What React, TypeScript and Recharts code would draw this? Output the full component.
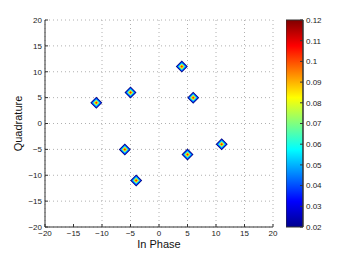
import React from 'react';
import {
  ScatterChart, Scatter, XAxis, YAxis, CartesianGrid, ReferenceArea, ComposedChart, Line,
} from 'recharts';

const inPhase = [-11, -5, 4, 6, -6, -4, 5, 11];
const quadrature = [4, 6, 11, 5, -5, -11, -6, -4];
const axisTicks = [-20, -15, -10, -5, 0, 5, 10, 15, 20];
const colorTicks = [0.02, 0.03, 0.04, 0.05, 0.06, 0.07, 0.08, 0.09, 0.1, 0.11, 0.12];
const colorRange = [0.02, 0.12];

const points = inPhase.map((x, i) => ({ x, y: quadrature[i] }));
const barData = [{ x: 0, y: colorRange[0] }, { x: 1, y: colorRange[1] }];

const FONT = 'Liberation Sans, Arial, sans-serif';
const fmt = (v: number) => (v < 0 ? '\u2212' + Math.abs(v) : String(v));

const layers = [
  { r: 6.0, c: '#00007a' },
  { r: 5.0, c: '#0040ff' },
  { r: 3.9, c: '#00d8ff' },
  { r: 2.8, c: '#c8ff40' },
  { r: 1.8, c: '#ffb000' },
  { r: 1.0, c: '#ff2000' },
];

const Diamond = (props: any) => {
  const { cx, cy } = props;
  if (cx == null || cy == null) return null;
  return (
    <g>
      {layers.map((l, i) => (
        <polygon
          key={i}
          points={`${cx},${cy - l.r} ${cx + l.r},${cy} ${cx},${cy + l.r} ${cx - l.r},${cy}`}
          fill={l.c}
        />
      ))}
    </g>
  );
};

const tickStyle = { fontSize: 8, fill: '#222', fontFamily: FONT };

export default function App() {
  return (
    <div style={{ position: 'fixed', left: 0, top: 0, width: 350, height: 256, background: '#fff' }}>
      <div style={{ position: 'absolute', left: 0, top: 0 }}>
        <ScatterChart width={350} height={256} margin={{ top: 20, right: 77, bottom: 0, left: 0 }}>
          <CartesianGrid strokeDasharray="1 3" stroke="#b0b0b0" horizontalValues={axisTicks} verticalValues={axisTicks} />
          <XAxis
            type="number"
            dataKey="x"
            domain={[-20, 20]}
            ticks={axisTicks}
            allowDataOverflow
            tickFormatter={fmt}
            tick={tickStyle}
            tickSize={-3}
            tickMargin={6}
            height={29}
            stroke="#333"
            label={{ value: 'In Phase', position: 'insideBottom', offset: 8, fontSize: 11, fill: '#111', fontFamily: FONT }}
          />
          <XAxis xAxisId="top" orientation="top" type="number" domain={[-20, 20]} ticks={axisTicks} tickFormatter={() => ''} tickSize={-3} height={0} stroke="#333" />
          <YAxis
            type="number"
            dataKey="y"
            domain={[-20, 20]}
            ticks={axisTicks}
            allowDataOverflow
            tickFormatter={fmt}
            tick={tickStyle}
            tickSize={-3}
            tickMargin={6}
            width={45}
            stroke="#333"
            label={{ value: 'Quadrature', angle: -90, position: 'insideLeft', offset: 18, fontSize: 11, fill: '#111', fontFamily: FONT, style: { textAnchor: 'middle' } }}
          />
          <YAxis yAxisId="right" orientation="right" type="number" domain={[-20, 20]} ticks={axisTicks} tickFormatter={() => ''} tickSize={-3} width={0} stroke="#333" />
          <Scatter data={points} shape={<Diamond />} isAnimationActive={false} />
        </ScatterChart>
      </div>
      <div style={{ position: 'absolute', left: 286, top: 0 }}>
        <ComposedChart width={60} height={256} margin={{ top: 20, right: 0, bottom: 29, left: 0 }} data={barData}>
          <defs>
            <linearGradient id="jet" x1="0" y1="0" x2="0" y2="1">
              <stop offset="0" stopColor="#800000" />
              <stop offset="0.125" stopColor="#ff0000" />
              <stop offset="0.375" stopColor="#ffff00" />
              <stop offset="0.625" stopColor="#00ffff" />
              <stop offset="0.875" stopColor="#0000ff" />
              <stop offset="1" stopColor="#00008f" />
            </linearGradient>
          </defs>
          <XAxis type="number" dataKey="x" domain={[0, 1]} hide />
          <YAxis
            orientation="right"
            type="number"
            dataKey="y"
            domain={colorRange}
            ticks={colorTicks}
            tickFormatter={(v: number) => String(Number(v.toFixed(2)))}
            tick={{ ...tickStyle, textAnchor: 'start' }}
            tickSize={-3}
            tickMargin={6}
            width={43}
            stroke="#333"
          />
          <Line dataKey="y" stroke="none" dot={false} activeDot={false} isAnimationActive={false} />
          <ReferenceArea x1={0} x2={1} y1={colorRange[0]} y2={colorRange[1]} fill="url(#jet)" fillOpacity={1} stroke="#333" strokeWidth={1} ifOverflow="visible" />
        </ComposedChart>
      </div>
    </div>
  );
}
